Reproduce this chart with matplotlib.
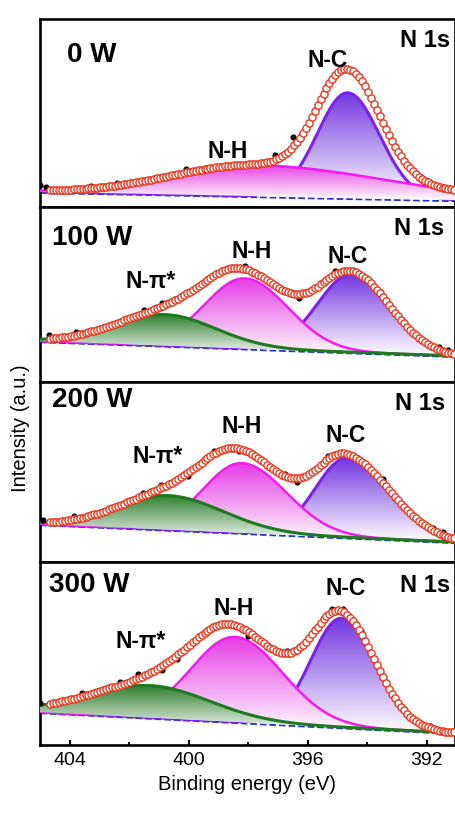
import numpy as np
import matplotlib
matplotlib.use("Agg")
import matplotlib.pyplot as plt
from matplotlib.colors import LinearSegmentedColormap
from matplotlib.patches import Polygon
from matplotlib.ticker import MultipleLocator

plt.rcParams["font.family"] = ["Liberation Sans", "DejaVu Sans"]

# binding energy window (eV), axis runs high -> low
BE_MAX = 405.0
BE_MIN = 391.05

panel_names = ["0 W", "100 W", "200 W", "300 W"]

# linear background, fraction of panel height, at BE_MAX / BE_MIN
bg_left  = [0.081, 0.234, 0.211, 0.180]
bg_right = [0.037, 0.149, 0.111, 0.066]

# fitted components: centre (eV), height, width high-BE side, width low-BE side
nc_center = [394.66, 394.52, 394.69, 394.86]
nc_height = [0.559, 0.446, 0.439, 0.596]
nc_wl     = [1.02, 1.15, 1.05, 1.03]
nc_wr     = [1.07, 1.28, 1.45, 1.13]

nh_center = [397.8, 398.12, 398.22, 398.45]
nh_height = [0.165, 0.400, 0.387, 0.464]
nh_wl     = [2.8, 1.35, 1.29, 1.46]
nh_wr     = [4.4, 1.45, 1.50, 1.60]

npi_center = [400.0, 400.8, 400.7, 401.3]
npi_height = [0.0, 0.177, 0.189, 0.175]
npi_wl     = [1.0, 1.75, 1.70, 2.10]
npi_wr     = [1.0, 1.70, 1.85, 2.00]

# raw data points that stick out of the envelope (eV, offset from fit)
raw_be = [
    [405.0, 404.8, 403.3, 402.4, 400.1, 397.1, 396.5, 392.2],
    [404.7, 403.8, 401.5, 400.9, 398.1, 396.3, 395.1, 391.6, 391.3],
    [404.9, 403.87, 401.55, 400.94, 400.03, 399.16, 398.3, 396.77, 396.37, 395.33, 393.48, 391.8, 391.46],
    [405.0, 403.6, 402.3, 401.7, 400.9, 400.4, 398.0, 396.7, 395.2, 394.8, 394.2, 391.9],
]
raw_dy = [
    [0.032, 0.018, 0.014, 0.014, 0.018, 0.027, 0.050, 0.008],
    [0.020, 0.020, 0.020, 0.020, 0.018, -0.023, 0.023, 0.014, 0.014],
    [0.014, 0.018, 0.018, 0.018, -0.018, 0.018, -0.018, 0.014, -0.022, 0.018, 0.018, 0.014, 0.014],
    [0.014, 0.018, 0.018, 0.022, -0.022, -0.022, -0.022, 0.014, 0.018, 0.018, 0.014, 0.014],
]

# layout in pixels of the 456 x 823 figure
W, H = 456, 823
AX_L, AX_R = 40, 455
panel_top = [19, 207, 382, 562]
panel_bot = [207, 382, 562, 745]

name_xy = [(92, 62), (92, 245), (92, 407), (89, 592)]
n1s_xy  = [(450, 47), (444, 235), (445, 410), (450, 592)]
nc_xy   = [(328, 67), (348, 263), (346, 442), (346, 595)]
nh_xy   = [(228, 158), (252, 258), (242, 433), (234, 615)]
npi_xy  = [None, (151, 288), (158, 463), (141, 648)]


def peak(xv, c, h, wl, wr):
    w = np.where(xv >= c, wl, wr)
    return h * np.exp(-(xv - c) ** 2 / (2 * w ** 2))


def background(i, xv):
    return np.interp(xv, [BE_MIN, BE_MAX], [bg_right[i], bg_left[i]])


def components(i, xv):
    out = [
        peak(xv, nc_center[i], nc_height[i], nc_wl[i], nc_wr[i]),
        peak(xv, nh_center[i], nh_height[i], nh_wl[i], nh_wr[i]),
    ]
    if npi_height[i] > 0:
        out.append(peak(xv, npi_center[i], npi_height[i], npi_wl[i], npi_wr[i]))
    return out


def shade(ax, xv, top, base, color, z):
    verts = np.column_stack([np.r_[xv, xv[::-1]], np.r_[top, base[::-1]]])
    clip = Polygon(verts, closed=True, transform=ax.transData, fc="none", ec="none")
    ax.add_patch(clip)
    cmap = LinearSegmentedColormap.from_list("g", ["white", color])
    im = ax.imshow(np.linspace(0, 1, 256)[:, None], cmap=cmap, origin="lower",
                   aspect="auto", interpolation="bilinear", zorder=z,
                   extent=[xv[0], xv[-1], base.min(), top.max()])
    im.set_clip_path(clip)


line_cols = ["#7b22ee", "#f01cf0", "#1f7a1f"]
fill_cols = ["#7436e0", "#e63ce6", "#2d7d2d"]
line_w = [2.2, 1.8, 2.2]

fig = plt.figure(figsize=(W / 100, H / 100), dpi=100)
x = np.linspace(BE_MAX, BE_MIN, 700)
xe = np.arange(404.67, BE_MIN, -0.1)

axes = []
for i in range(4):
    h_px = panel_bot[i] - panel_top[i]
    rect = [AX_L / W, 1 - panel_bot[i] / H, (AX_R - AX_L) / W, h_px / H]
    ax = fig.add_axes(rect)
    axes.append(ax)

    bg = background(i, x)
    ax.plot(x, bg - 1.2 / h_px, color="#2233cc", ls="--", lw=1.3, zorder=1.5)

    for k, comp in enumerate(components(i, x)):
        z = 2 + k
        shade(ax, x, bg + comp, bg, fill_cols[k], z)
        ax.plot(x, bg + comp, color=line_cols[k], lw=line_w[k], zorder=z + 0.5,
                solid_capstyle="butt")

    rb = np.array(raw_be[i])
    fit_raw = background(i, rb) + sum(components(i, rb))
    ax.plot(rb, fit_raw + np.array(raw_dy[i]), "o", ms=3.4, color="black", zorder=6)

    fit_env = background(i, xe) + sum(components(i, xe))
    ax.plot(xe, fit_env, "o", ms=5.2, mfc="white", mec="#e2391f", mew=1.0, zorder=7)

    ax.set_xlim(BE_MAX, BE_MIN)
    ax.set_ylim(0, 1)
    ax.set_yticks([])
    for sp in ax.spines.values():
        sp.set_linewidth(1.9)
    ax.xaxis.set_major_locator(MultipleLocator(4))
    ax.xaxis.set_minor_locator(MultipleLocator(2))
    if i < 3:
        ax.tick_params(axis="x", which="both", bottom=False, labelbottom=False)
    else:
        ax.tick_params(axis="x", which="major", direction="in", length=3.6, width=1.5,
                       labelsize=14, pad=5)
        ax.tick_params(axis="x", which="minor", direction="in", length=2.2, width=1.3)

    def to_ax(p):
        return ((p[0] - AX_L) / (AX_R - AX_L), (panel_bot[i] - p[1]) / h_px)

    kw = dict(transform=ax.transAxes, fontweight="bold", va="baseline", zorder=8)
    ax.text(*to_ax(name_xy[i]), panel_names[i], ha="center", fontsize=20, **kw)
    ax.text(*to_ax(n1s_xy[i]), "N 1s", ha="right", fontsize=17, **kw)
    ax.text(*to_ax(nc_xy[i]), "N-C", ha="center", fontsize=16.5, **kw)
    ax.text(*to_ax(nh_xy[i]), "N-H", ha="center", fontsize=16.5, **kw)
    if npi_xy[i] is not None:
        ax.text(*to_ax(npi_xy[i]), "N-π*", ha="center", fontsize=16.5, **kw)

fig.text(21 / W, 1 - 428 / H, "Intensity (a.u.)", rotation=90, ha="center",
         va="center", fontsize=14.5)
fig.text((AX_L + AX_R) / 2 / W, 1 - 785 / H, "Binding energy (eV)", ha="center",
         va="center", fontsize=14.5)

fig.savefig("out.png", dpi=100, facecolor="white")
